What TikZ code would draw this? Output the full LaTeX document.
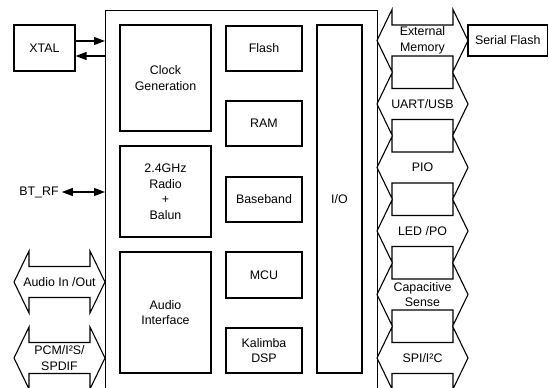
\documentclass[tikz,border=0pt]{standalone}
\usepackage{fontspec}
\setmainfont{Liberation Sans}
\usetikzlibrary{arrows.meta}
\newcommand\bx[6]{\node[blk, minimum width={#4pt-#2pt}, minimum height={#5pt-#3pt}] (#1) at ({(#2+#4)/2},{(#3+#5)/2}) {#6};}
\newcommand\barrow[5]{%
  \draw[ln] (#2,#4) -- ++(15,-31) -- ++(0,15.5) -- (#3-15,#4-15.5) -- ++(0,-15.5) -- (#3,#4)
    -- ++(-15,31) -- ++(0,-15.5) -- (#2+15,#4+15.5) -- ++(0,15.5) -- cycle;
  \node[lbl] (#1) at ({(#2+#3)/2},#4) {#5};}
\begin{document}
\begin{tikzpicture}[x=1pt,y=-1pt,
  ln/.style={line width=1.1pt, draw=black, line join=miter},
  lbl/.style={inner sep=0pt, align=center, font=\fontsize{12.4}{15.5}\selectfont},
  blk/.style={ln, lbl},
  arr/.style={line width=1.1pt, -{Triangle[length=11pt,width=8pt]}},
  darr/.style={line width=1.1pt, {Triangle[length=11pt,width=8pt]}-{Triangle[length=11pt,width=8pt]}},
]
\useasboundingbox (0,0) rectangle (549,388);
\clip (0,0) rectangle (549,388);
\fill[white] (0,0) rectangle (549,388);

% chip outline
\node[ln, inner sep=0pt, minimum width=272pt, minimum height=400pt, anchor=north west] (chip) at (105,10) {};

% inner blocks
\bx{clk}{120}{25}{211}{131}{Clock\\Generation}
\bx{radio}{120}{146}{211}{237}{2.4GHz\\Radio\\+\\Balun}
\bx{audio}{120}{252}{211}{373}{Audio\\Interface}
\bx{flash}{226}{26}{302}{71}{Flash}
\bx{ram}{226}{101}{302}{146}{RAM}
\bx{bb}{226}{177}{302}{222}{Baseband}
\bx{mcu}{226}{252}{302}{298}{MCU}
\bx{dsp}{226}{328}{302}{373}{Kalimba\\DSP}
\bx{io}{317}{25}{362}{373}{I/O}

% XTAL
\bx{xtal}{14}{25}{75}{71}{XTAL}
\draw[arr] (xtal.east |- 0,41) -- (chip.west |- 0,41);
\draw[arr] (chip.west |- 0,56) -- (xtal.east |- 0,56);

% BT_RF
\node[lbl] (btrf) at (39,192) {BT\_RF};
\draw[darr] ([xshift=3pt]btrf.east) -- (chip.west |- btrf.east);

% left block arrows
\barrow{aio}{14}{105}{282}{Audio In /Out}
\barrow{pcm}{14}{105}{358}{PCM/I²S/\\SPDIF}

% right block arrows
\barrow{extmem}{377}{468}{40.5}{External\\Memory}
\barrow{uart}{377}{468}{104}{UART/USB}
\barrow{pio}{377}{468}{167.5}{PIO}
\barrow{led}{377}{468}{231}{LED /PO}
\barrow{cap}{377}{468}{294.5}{Capacitive\\Sense}
\barrow{spi}{377}{468}{358}{SPI/I²C}

% serial flash
\bx{sflash}{468}{25}{547.5}{56}{Serial Flash}
\end{tikzpicture}
\end{document}
